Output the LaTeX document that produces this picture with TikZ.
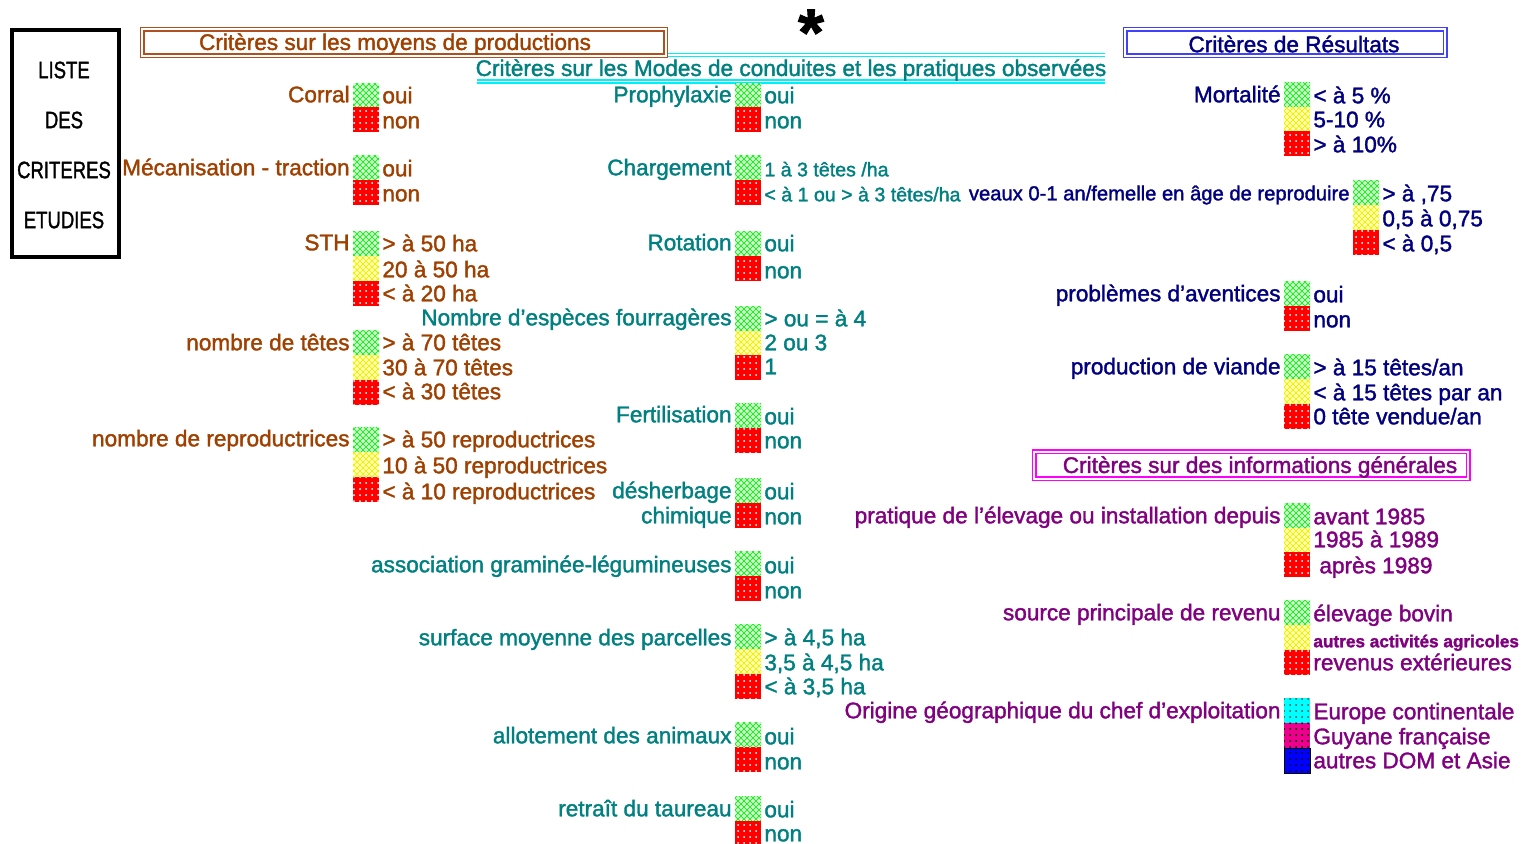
\documentclass[tikz,border=0pt]{standalone}
\usepackage{fontspec}
\usepackage{graphicx}
\setmainfont{Liberation Sans}[FakeBold=1.6]
\usetikzlibrary{patterns}
\definecolor{brownc}{RGB}{160,64,0}
\definecolor{brownb}{RGB}{176,80,32}
\definecolor{tealc}{RGB}{0,128,128}
\definecolor{navyc}{RGB}{0,0,128}
\definecolor{purplec}{RGB}{128,0,128}
\definecolor{blueb}{RGB}{64,64,255}
\definecolor{magb}{RGB}{255,0,255}
\definecolor{cyanl}{RGB}{0,240,250}
\definecolor{gfill}{RGB}{215,255,215}
\definecolor{ggrid}{RGB}{40,235,40}
\definecolor{yfill}{RGB}{255,255,200}
\definecolor{ygrid}{RGB}{240,240,0}
\definecolor{cyanf}{RGB}{0,255,255}
\newcommand{\fsN}{\fontsize{11.3}{13}\selectfont}
\newcommand{\fsS}{\fontsize{9.8}{12}\selectfont}
\newcommand{\fsV}{\fontsize{10.1}{12}\selectfont}
\newcommand{\fsT}{\fontsize{8.6}{10}\selectfont\bfseries}
\tikzset{
  base/.style={inner sep=0pt, font=\fsN, yshift=-1pt},
  lbl/.style={base, anchor=mid east},
  opt/.style={base, anchor=mid west},
  brn/.style={text=brownc},
  tea/.style={text=tealc},
  nav/.style={text=navyc},
  pur/.style={text=purplec},
  dbl/.style={line width=0.7pt, double=white, double distance=1pt},
  gsw/.style={fill=gfill, postaction={pattern=north east lines, pattern color=ggrid}, postaction={pattern=north west lines, pattern color=ggrid}},
  ysw/.style={fill=yfill, postaction={pattern=north east lines, pattern color=ygrid}, postaction={pattern=north west lines, pattern color=ygrid}},
  rsw/.style={fill=red, postaction={pattern=dots, pattern color=white}},
  csw/.style={fill=cyanf, postaction={pattern=dots, pattern color=black!70}},
  msw/.style={fill=magenta, postaction={pattern=dots, pattern color=black}},
  bsw/.style={fill=blue, draw=black, line width=0.5pt, postaction={pattern=dots, pattern color=black}},
}
\newcommand{\SwG}[2]{\path[gsw] (#1,#2) rectangle ++(26,25);}
\newcommand{\SwY}[2]{\path[ysw] (#1,#2) rectangle ++(26,25);}
\newcommand{\SwR}[2]{\path[rsw] (#1,#2) rectangle ++(26,25);}
\newcommand{\SwC}[2]{\path[csw] (#1,#2) rectangle ++(26,25);}
\newcommand{\SwM}[2]{\path[msw] (#1,#2) rectangle ++(26,25);}
\newcommand{\SwB}[2]{\path[bsw] (#1,#2) rectangle ++(26,25);}
\begin{document}
\begin{tikzpicture}[x=0.5pt,y=-0.5pt]
\useasboundingbox[fill=white] (0,0) rectangle (1527,843);

% ---------- left box
\draw[line width=2pt] (11.5,29.5) rectangle (119,257);
\node[base] (t1) at (64,68) {\scalebox{0.82}[1.05]{LISTE}};
\node[base] (t2) at (64,118) {\scalebox{0.82}[1.05]{DES}};
\node[base] (t3) at (64,168) {\scalebox{0.82}[1.05]{CRITERES}};
\node[base] (t4) at (64,218) {\scalebox{0.82}[1.05]{ETUDIES}};

% ---------- headers
\draw[dbl, draw=brownb] (142.4,29.4) rectangle (665.6,55.6);
\node[base, brn] (h1) at (395,42) {Critères sur les moyens de productions};
\node[inner sep=0pt, font=\fontsize{33}{33}\selectfont\bfseries, anchor=base] (ast) at (811,55) {*};
\draw[cyanl, line width=0.75pt] (668,53.5) -- (1105,53.5) (668,56.5) -- (1105,56.5);
\draw[cyanl, line width=0.75pt] (477,80) -- (1105,80) (477,83) -- (1105,83);
\node[base, tea] (h2) at (791,68) {Critères sur les Modes de conduites et les pratiques observées};
\draw[dbl, draw=blueb] (1125.4,29.4) rectangle (1445.2,55.6);
\node[base, nav] (h3) at (1294,42) {Critères de Résultats};
\draw[dbl, draw=magb] (1034.1,451.7) rectangle (1468.3,478.6);
\node[base, pur] (h4) at (1260,465) {Critères sur des informations générales};

% ---------- left column (brown)
\node[lbl, brn] (corral) at (350,95) {Corral};
\SwG{353}{83}\SwR{353}{107}
\node[opt, brn] (corral1) at (382,96) {oui};
\node[opt, brn] (corral2) at (382,121) {non};

\node[lbl, brn] (meca) at (350,168) {Mécanisation - traction};
\SwG{353}{155}\SwR{353}{180}
\node[opt, brn] (meca1) at (382,169) {oui};
\node[opt, brn] (meca2) at (382,194) {non};

\node[lbl, brn] (sth) at (350,243) {STH};
\SwG{353}{231}\SwY{353}{256}\SwR{353}{281}
\node[opt, brn] (sth1) at (382,244) {> à 50 ha};
\node[opt, brn] (sth2) at (382,270) {20 à 50 ha};
\node[opt, brn] (sth3) at (382,294) {< à 20 ha};

\node[lbl, brn] (tetes) at (350,343) {nombre de têtes};
\SwG{353}{330}\SwY{353}{355}\SwR{353}{380}
\node[opt, brn] (tetes1) at (382,343) {> à 70 têtes};
\node[opt, brn] (tetes2) at (382,368) {30 à 70 têtes};
\node[opt, brn] (tetes3) at (382,392) {< à 30 têtes};

\node[lbl, brn] (repro) at (350,439) {nombre de reproductrices};
\SwG{353}{427}\SwY{353}{452}\SwR{353}{477}
\node[opt, brn] (repro1) at (382,440) {> à 50 reproductrices};
\node[opt, brn] (repro2) at (382,466) {10 à 50 reproductrices};
\node[opt, brn] (repro3) at (382,492) {< à 10 reproductrices};

% ---------- middle column (teal)
\node[lbl, tea] (proph) at (732,95) {Prophylaxie};
\SwG{735}{83}\SwR{735}{107}
\node[opt, tea] (proph1) at (764,96) {oui};
\node[opt, tea] (proph2) at (764,121) {non};

\node[lbl, tea] (charg) at (732,168) {Chargement};
\SwG{735}{155}\SwR{735}{180}
\node[opt, tea, font=\fsS] (charg1) at (764,169) {1 à 3 têtes /ha};
\node[opt, tea, font=\fsS] (charg2) at (764,194) {< à 1 ou > à 3 têtes/ha};

\node[lbl, tea] (rot) at (732,243) {Rotation};
\SwG{735}{231}\SwR{735}{256}
\node[opt, tea] (rot1) at (764,244) {oui};
\node[opt, tea] (rot2) at (764,271) {non};

\node[lbl, tea] (esp) at (732,318) {Nombre d'espèces fourragères};
\SwG{735}{306}\SwY{735}{331}\SwR{735}{355}
\node[opt, tea] (esp1) at (764,319) {> ou = à 4};
\node[opt, tea] (esp2) at (764,343) {2 ou 3};
\node[opt, tea] (esp3) at (764,367) {1};

\node[lbl, tea] (fert) at (732,415) {Fertilisation};
\SwG{735}{403}\SwR{735}{428}
\node[opt, tea] (fert1) at (764,417) {oui};
\node[opt, tea] (fert2) at (764,441) {non};

\node[lbl, tea] (desh) at (732,491) {désherbage};
\node[lbl, tea] (desh0) at (732,516) {chimique};
\SwG{735}{478}\SwR{735}{503}
\node[opt, tea] (desh1) at (764,492) {oui};
\node[opt, tea] (desh2) at (764,517) {non};

\node[lbl, tea] (assoc) at (732,565) {association graminée-légumineuses};
\SwG{735}{551}\SwR{735}{576}
\node[opt, tea] (assoc1) at (764,566) {oui};
\node[opt, tea] (assoc2) at (764,591) {non};

\node[lbl, tea] (surf) at (732,638) {surface moyenne des parcelles};
\SwG{735}{624}\SwY{735}{649}\SwR{735}{674}
\node[opt, tea] (surf1) at (764,638) {> à 4,5 ha};
\node[opt, tea] (surf2) at (764,663) {3,5 à 4,5 ha};
\node[opt, tea] (surf3) at (764,687) {< à 3,5 ha};

\node[lbl, tea] (allot) at (732,736) {allotement des animaux};
\SwG{735}{722}\SwR{735}{747}
\node[opt, tea] (allot1) at (764,737) {oui};
\node[opt, tea] (allot2) at (764,762) {non};

\node[lbl, tea] (taur) at (732,809) {retraît du taureau};
\SwG{735}{796}\SwR{735}{821}
\node[opt, tea] (taur1) at (764,810) {oui};
\node[opt, tea] (taur2) at (764,834) {non};

% ---------- right column (navy)
\node[lbl, nav] (mort) at (1281,95) {Mortalité};
\SwG{1284}{82}\SwY{1284}{107}\SwR{1284}{131}
\node[opt, nav] (mort1) at (1313,96) {< à 5 \%};
\node[opt, nav] (mort2) at (1313,120) {5-10 \%};
\node[opt, nav] (mort3) at (1313,145) {> à 10\%};

\node[lbl, nav, font=\fsV] (veau) at (1350,193) {veaux 0-1 an/femelle en âge de reproduire};
\SwG{1353}{180}\SwY{1353}{205}\SwR{1353}{230}
\node[opt, nav] (veau1) at (1382,194) {> à ,75};
\node[opt, nav] (veau2) at (1382,219) {0,5 à 0,75};
\node[opt, nav] (veau3) at (1382,244) {< à 0,5};

\node[lbl, nav] (avent) at (1281,294) {problèmes d'aventices};
\SwG{1284}{281}\SwR{1284}{306}
\node[opt, nav] (avent1) at (1313,295) {oui};
\node[opt, nav] (avent2) at (1313,320) {non};

\node[lbl, nav] (viande) at (1281,367) {production de viande};
\SwG{1284}{354}\SwY{1284}{379}\SwR{1284}{404}
\node[opt, nav] (viande1) at (1313,368) {> à 15 têtes/an};
\node[opt, nav] (viande2) at (1313,393) {< à 15 têtes par an};
\node[opt, nav] (viande3) at (1313,417) {0 tête vendue/an};

% ---------- general information (purple)
\node[lbl, pur] (prat) at (1281,516) {pratique de l'élevage ou installation depuis};
\SwG{1284}{503}\SwY{1284}{528}\SwR{1284}{552}
\node[opt, pur] (prat1) at (1313,517) {avant 1985};
\node[opt, pur] (prat2) at (1313,540) {1985 à 1989};
\node[opt, pur] (prat3) at (1319,566) {après 1989};

\node[lbl, pur] (src) at (1281,613) {source principale de revenu};
\SwG{1284}{600}\SwY{1284}{625}\SwR{1284}{650}
\node[opt, pur] (src1) at (1313,614) {élevage bovin};
\node[opt, pur, font=\fsT] (src2) at (1313,640) {autres activités agricoles};
\node[opt, pur] (src3) at (1313,663) {revenus extérieures};

\node[lbl, pur] (orig) at (1281,711) {Origine géographique du chef d'exploitation};
\SwC{1284}{698}\SwM{1284}{723}\SwB{1284}{748}
\node[opt, pur] (orig1) at (1313,712) {Europe continentale};
\node[opt, pur] (orig2) at (1313,737) {Guyane française};
\node[opt, pur] (orig3) at (1313,761) {autres DOM et Asie};
\end{tikzpicture}
\end{document}
